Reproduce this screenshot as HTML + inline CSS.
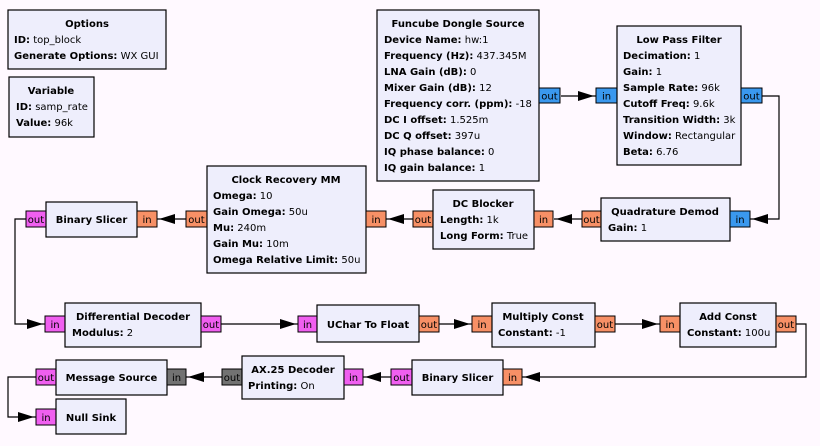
<!DOCTYPE html>
<html><head><meta charset="utf-8"><style>
html,body{margin:0;padding:0;background:#fff9ff;}
svg{display:block;font-family:"DejaVu Sans","Liberation Sans",sans-serif;font-size:10px;}
.b{fill:#eeeefc;stroke:#000;stroke-width:1.2}
.t{font-weight:bold;}
.po{fill:#f79066;stroke:#000;stroke-width:1}
.pb{fill:#3a98ee;stroke:#000;stroke-width:1}
.pp{fill:#f05ff0;stroke:#000;stroke-width:1}
.pg{fill:#727272;stroke:#000;stroke-width:1}
.l{fill:none;stroke:#000;stroke-width:1.2}
</style></head><body>
<svg width="820" height="446" viewBox="0 0 820 446" xmlns="http://www.w3.org/2000/svg">
<g class="l">
<polyline points="561,96 596,96"/>
<polyline points="762,96 779,96 779,219 750,219"/>
<polyline points="582,219 554,219"/>
<polyline points="413,219 386,219"/>
<polyline points="186,219 157,219"/>
<polyline points="26,219 15,219 15,324 45,324"/>
<polyline points="220,324 298,324"/>
<polyline points="439,324 472,324"/>
<polyline points="615,324 660,324"/>
<polyline points="796,324 806,324 806,377 522,377"/>
<polyline points="391,377 363,377"/>
<polyline points="222,377 186,377"/>
<polyline points="36,377 8,377 8,417 36,417"/>
</g>
<g fill="#000">
<polygon points="578,91 578,101 594,96"/>
<polygon points="768,214 768,224 752,219"/>
<polygon points="572,214 572,224 556,219"/>
<polygon points="404,214 404,224 388,219"/>
<polygon points="175,214 175,224 159,219"/>
<polygon points="27,319 27,329 43,324"/>
<polygon points="280,319 280,329 296,324"/>
<polygon points="454,319 454,329 470,324"/>
<polygon points="642,319 642,329 658,324"/>
<polygon points="540,372 540,382 524,377"/>
<polygon points="381,372 381,382 365,377"/>
<polygon points="204,372 204,382 188,377"/>
<polygon points="18,412 18,422 34,417"/>
</g>

<rect class="b" x="8" y="10" width="158" height="59"/>
<text x="87" y="27" text-anchor="middle" class="t">Options</text>
<text x="14" y="43"><tspan class="t">ID:</tspan> top_block</text>
<text x="14" y="59"><tspan class="t">Generate Options:</tspan> WX GUI</text>

<rect class="b" x="9" y="77" width="85" height="60"/>
<text x="51" y="94" text-anchor="middle" class="t">Variable</text>
<text x="16" y="110"><tspan class="t">ID:</tspan> samp_rate</text>
<text x="16" y="126"><tspan class="t">Value:</tspan> 96k</text>

<rect class="b" x="377" y="10" width="162" height="171"/>
<text x="458" y="27" text-anchor="middle" class="t">Funcube Dongle Source</text>
<text x="384" y="43"><tspan class="t">Device Name:</tspan> hw:1</text>
<text x="384" y="59"><tspan class="t">Frequency (Hz):</tspan> 437.345M</text>
<text x="384" y="75"><tspan class="t">LNA Gain (dB):</tspan> 0</text>
<text x="384" y="91"><tspan class="t">Mixer Gain (dB):</tspan> 12</text>
<text x="384" y="107"><tspan class="t">Frequency corr. (ppm):</tspan> -18</text>
<text x="384" y="123"><tspan class="t">DC I offset:</tspan> 1.525m</text>
<text x="384" y="139"><tspan class="t">DC Q offset:</tspan> 397u</text>
<text x="384" y="155"><tspan class="t">IQ phase balance:</tspan> 0</text>
<text x="384" y="171"><tspan class="t">IQ gain balance:</tspan> 1</text>
<rect class="pb" x="539" y="88" width="21" height="15"/><text x="549.5" y="99.5" text-anchor="middle">out</text>

<rect class="pb" x="596" y="88" width="21" height="15"/><text x="606.5" y="99.5" text-anchor="middle">in</text>
<rect class="b" x="617" y="26" width="124" height="139"/>
<text x="679" y="43" text-anchor="middle" class="t">Low Pass Filter</text>
<text x="623" y="59"><tspan class="t">Decimation:</tspan> 1</text>
<text x="623" y="75"><tspan class="t">Gain:</tspan> 1</text>
<text x="623" y="91"><tspan class="t">Sample Rate:</tspan> 96k</text>
<text x="623" y="107"><tspan class="t">Cutoff Freq:</tspan> 9.6k</text>
<text x="623" y="123"><tspan class="t">Transition Width:</tspan> 3k</text>
<text x="623" y="139"><tspan class="t">Window:</tspan> Rectangular</text>
<text x="623" y="155"><tspan class="t">Beta:</tspan> 6.76</text>
<rect class="pb" x="741" y="88" width="21" height="15"/><text x="751.5" y="99.5" text-anchor="middle">out</text>

<rect class="po" x="582" y="211" width="19" height="16"/><text x="591.5" y="223" text-anchor="middle">out</text>
<rect class="b" x="601" y="198" width="129" height="43"/>
<text x="665" y="215" text-anchor="middle" class="t">Quadrature Demod</text>
<text x="608" y="231"><tspan class="t">Gain:</tspan> 1</text>
<rect class="pb" x="730" y="211" width="20" height="16"/><text x="740" y="223" text-anchor="middle">in</text>

<rect class="po" x="413" y="211" width="20" height="16"/><text x="423" y="223" text-anchor="middle">out</text>
<rect class="b" x="433" y="190" width="101" height="59"/>
<text x="483" y="207" text-anchor="middle" class="t">DC Blocker</text>
<text x="440" y="223"><tspan class="t">Length:</tspan> 1k</text>
<text x="440" y="239"><tspan class="t">Long Form:</tspan> True</text>
<rect class="po" x="534" y="211" width="19" height="16"/><text x="543.5" y="223" text-anchor="middle">in</text>

<rect class="po" x="186" y="211" width="21" height="16"/><text x="196.5" y="223" text-anchor="middle">out</text>
<rect class="b" x="207" y="166" width="159" height="107"/>
<text x="286" y="183" text-anchor="middle" class="t">Clock Recovery MM</text>
<text x="213" y="199"><tspan class="t">Omega:</tspan> 10</text>
<text x="213" y="215"><tspan class="t">Gain Omega:</tspan> 50u</text>
<text x="213" y="231"><tspan class="t">Mu:</tspan> 240m</text>
<text x="213" y="247"><tspan class="t">Gain Mu:</tspan> 10m</text>
<text x="213" y="263"><tspan class="t">Omega Relative Limit:</tspan> 50u</text>
<rect class="po" x="366" y="211" width="20" height="16"/><text x="376" y="223" text-anchor="middle">in</text>

<rect class="pp" x="26" y="211" width="20" height="16"/><text x="36" y="223" text-anchor="middle">out</text>
<rect class="b" x="46" y="202" width="91" height="35"/>
<text x="91.5" y="223" text-anchor="middle" class="t">Binary Slicer</text>
<rect class="po" x="137" y="211" width="20" height="16"/><text x="147" y="223" text-anchor="middle">in</text>

<rect class="pp" x="45" y="316" width="20" height="16"/><text x="55" y="328" text-anchor="middle">in</text>
<rect class="b" x="65" y="303" width="136" height="44"/>
<text x="133" y="320" text-anchor="middle" class="t">Differential Decoder</text>
<text x="72" y="336"><tspan class="t">Modulus:</tspan> 2</text>
<rect class="pp" x="201" y="316" width="20" height="16"/><text x="211" y="328" text-anchor="middle">out</text>

<rect class="pp" x="298" y="316" width="19" height="16"/><text x="307.5" y="328" text-anchor="middle">in</text>
<rect class="b" x="317" y="305" width="102" height="37"/>
<text x="368" y="328" text-anchor="middle" class="t">UChar To Float</text>
<rect class="po" x="419" y="316" width="20" height="16"/><text x="429" y="328" text-anchor="middle">out</text>

<rect class="po" x="472" y="316" width="20" height="16"/><text x="482" y="328" text-anchor="middle">in</text>
<rect class="b" x="492" y="303" width="103" height="44"/>
<text x="543" y="320" text-anchor="middle" class="t">Multiply Const</text>
<text x="498" y="336"><tspan class="t">Constant:</tspan> -1</text>
<rect class="po" x="595" y="316" width="20" height="16"/><text x="605" y="328" text-anchor="middle">out</text>

<rect class="po" x="660" y="316" width="20" height="16"/><text x="670" y="328" text-anchor="middle">in</text>
<rect class="b" x="680" y="303" width="96" height="44"/>
<text x="728" y="320" text-anchor="middle" class="t">Add Const</text>
<text x="687" y="336"><tspan class="t">Constant:</tspan> 100u</text>
<rect class="po" x="776" y="316" width="20" height="16"/><text x="786" y="328" text-anchor="middle">out</text>

<rect class="pp" x="391" y="369" width="21" height="16"/><text x="401.5" y="381" text-anchor="middle">out</text>
<rect class="b" x="412" y="360" width="91" height="35"/>
<text x="457.5" y="381" text-anchor="middle" class="t">Binary Slicer</text>
<rect class="po" x="503" y="369" width="19" height="16"/><text x="512.5" y="381" text-anchor="middle">in</text>

<rect class="pg" x="222" y="369" width="20" height="16"/><text x="232" y="381" text-anchor="middle">out</text>
<rect class="b" x="242" y="356" width="102" height="43"/>
<text x="293" y="373" text-anchor="middle" class="t">AX.25 Decoder</text>
<text x="248" y="389"><tspan class="t">Printing:</tspan> On</text>
<rect class="pp" x="344" y="369" width="19" height="16"/><text x="353.5" y="381" text-anchor="middle">in</text>

<rect class="pp" x="36" y="369" width="20" height="16"/><text x="46" y="381" text-anchor="middle">out</text>
<rect class="b" x="56" y="360" width="111" height="35"/>
<text x="111.5" y="381" text-anchor="middle" class="t">Message Source</text>
<rect class="pg" x="167" y="369" width="19" height="16"/><text x="176.5" y="381" text-anchor="middle">in</text>

<rect class="pp" x="36" y="409" width="20" height="16"/><text x="46" y="421" text-anchor="middle">in</text>
<rect class="b" x="56" y="399" width="70" height="35"/>
<text x="91" y="421" text-anchor="middle" class="t">Null Sink</text>
</svg>
</body></html>
